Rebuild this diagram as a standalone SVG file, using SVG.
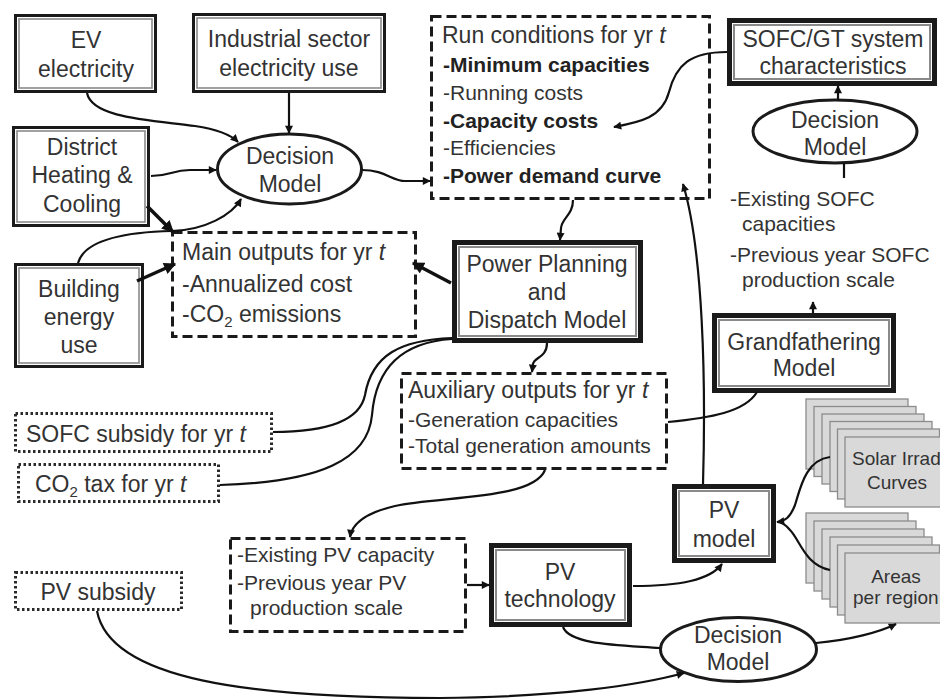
<svg xmlns="http://www.w3.org/2000/svg" width="940" height="700" viewBox="0 0 940 700">
  <defs>
    <marker id="ah" viewBox="0 0 10 10" refX="9" refY="5" markerWidth="9" markerHeight="8" markerUnits="userSpaceOnUse" orient="auto">
      <path d="M0,0 L10,5 L0,10 z" fill="#111"/>
    </marker>
    <marker id="ahb" viewBox="0 0 10 10" refX="9" refY="5" markerWidth="13" markerHeight="12" markerUnits="userSpaceOnUse" orient="auto">
      <path d="M0,0 L10,5 L0,10 z" fill="#111"/>
    </marker>
    <style>
      text { font-family: "Liberation Sans", Arial, sans-serif; fill: #333; }
      .t23 { font-size: 23px; }
      .t21 { font-size: 21px; }
      .t19 { font-size: 19px; }
      .c { text-anchor: middle; }
      .b { font-weight: bold; fill: #222; }
      .ob { fill: #fff; stroke: #1a1a1a; stroke-width: 3; }
      .obm { fill: #fff; stroke: #1a1a1a; stroke-width: 5; }
      .ib { fill: none; stroke: #8a8a8a; stroke-width: 1.6; }
      .ibm { fill: none; stroke: #8a8a8a; stroke-width: 2; }
      .dash { fill: #fff; stroke: #1a1a1a; stroke-width: 3; stroke-dasharray: 10 5; }
      .dot { fill: #fff; stroke: #2a2a2a; stroke-width: 3; stroke-dasharray: 2.5 2.5; }
      .ell { fill: #fff; stroke: #1a1a1a; stroke-width: 3; }
      .card { fill: #d9d9d9; stroke: #8c8c8c; stroke-width: 1.3; }
      .con { fill: none; stroke: #111; stroke-width: 2.2; }
      .thick { fill: none; stroke: #111; stroke-width: 3.5; }
      .arr { marker-end: url(#ah); }
      .arrb { marker-end: url(#ahb); }
      .it { font-style: italic; }
    </style>
  </defs>

  <!-- input boxes -->
  <g id="ev">
    <rect class="ob" x="15.5" y="15.5" width="140" height="76"/>
    <rect class="ib" x="19" y="19" width="133" height="69"/>
    <text class="t23 c" x="86" y="48">EV</text>
    <text class="t23 c" x="86" y="77">electricity</text>
  </g>
  <g id="industrial">
    <rect class="ob" x="193.5" y="14.5" width="191" height="77"/>
    <rect class="ib" x="197" y="18" width="184" height="70"/>
    <text class="t23 c" x="289" y="47">Industrial sector</text>
    <text class="t23 c" x="289" y="76">electricity use</text>
  </g>
  <g id="district">
    <rect class="ob" x="13.5" y="127.5" width="135" height="98"/>
    <rect class="ib" x="17" y="131" width="128" height="91"/>
    <text class="t23 c" x="82" y="155">District</text>
    <text class="t23 c" x="82" y="183">Heating &amp;</text>
    <text class="t23 c" x="82" y="212">Cooling</text>
  </g>
  <g id="building">
    <rect class="ob" x="15.5" y="264.5" width="127" height="102"/>
    <rect class="ib" x="19" y="268" width="120" height="95"/>
    <text class="t23 c" x="79" y="297">Building</text>
    <text class="t23 c" x="79" y="325">energy</text>
    <text class="t23 c" x="79" y="353">use</text>
  </g>

  <!-- decision models -->
  <g id="decision-main">
    <ellipse class="ell" cx="289.5" cy="169" rx="72" ry="35"/>
    <text class="t23 c" x="290" y="164">Decision</text>
    <text class="t23 c" x="290" y="192">Model</text>
  </g>
  <g id="decision-sofc">
    <ellipse class="ell" cx="835" cy="131.5" rx="82" ry="31.5"/>
    <text class="t23 c" x="835" y="128">Decision</text>
    <text class="t23 c" x="835" y="155">Model</text>
  </g>
  <g id="decision-pv">
    <ellipse class="ell" cx="738.5" cy="649.5" rx="78" ry="32"/>
    <text class="t23 c" x="738" y="643">Decision</text>
    <text class="t23 c" x="738" y="670">Model</text>
  </g>

  <!-- run conditions -->
  <g id="run-conditions">
    <rect class="dash" x="431.5" y="16.5" width="278" height="182"/>
    <text class="t23" x="442" y="43">Run conditions for yr <tspan class="it">t</tspan></text>
    <text class="t21 b" x="443" y="72">-Minimum capacities</text>
    <text class="t21" x="443" y="100">-Running costs</text>
    <text class="t21 b" x="443" y="128">-Capacity costs</text>
    <text class="t21" x="443" y="155">-Efficiencies</text>
    <text class="t21 b" x="443" y="183">-Power demand curve</text>
  </g>

  <!-- SOFC/GT -->
  <g id="sofc-gt">
    <rect class="obm" x="729.5" y="20.5" width="205" height="63"/>
    <rect class="ibm" x="734" y="25" width="196" height="54"/>
    <text class="t23 c" x="833" y="47">SOFC/GT system</text>
    <text class="t23 c" x="833" y="74">characteristics</text>
  </g>
  <g id="sofc-inputs">
    <text class="t21" x="730" y="206">-Existing SOFC</text>
    <text class="t21" x="742" y="231">capacities</text>
    <text class="t21" x="730" y="262">-Previous year SOFC</text>
    <text class="t21" x="742" y="287">production scale</text>
  </g>

  <!-- main outputs -->
  <g id="main-outputs">
    <rect class="dash" x="172.5" y="232.5" width="243" height="104"/>
    <text class="t23" x="182" y="260">Main outputs for yr <tspan class="it">t</tspan></text>
    <text class="t23" x="182" y="292">-Annualized cost</text>
    <text class="t23" x="182" y="322">-CO<tspan font-size="15" dy="5">2</tspan><tspan dy="-5"> emissions</tspan></text>
  </g>

  <!-- power planning -->
  <g id="power-planning">
    <rect class="obm" x="454.5" y="242.5" width="186" height="98"/>
    <rect class="ibm" x="459" y="247" width="177" height="89"/>
    <text class="t23 c" x="547" y="272">Power Planning</text>
    <text class="t23 c" x="547" y="300">and</text>
    <text class="t23 c" x="547" y="328">Dispatch Model</text>
  </g>

  <!-- auxiliary outputs -->
  <g id="aux-outputs">
    <rect class="dash" x="401.5" y="373.5" width="265" height="95"/>
    <text class="t23" x="408" y="398">Auxiliary outputs for yr <tspan class="it">t</tspan></text>
    <text class="t21" x="408" y="427">-Generation capacities</text>
    <text class="t21" x="408" y="453">-Total generation amounts</text>
  </g>

  <!-- grandfathering -->
  <g id="grandfathering">
    <rect class="obm" x="714.5" y="315.5" width="179" height="75"/>
    <rect class="ibm" x="719" y="320" width="170" height="66"/>
    <text class="t23 c" x="804" y="350">Grandfathering</text>
    <text class="t23 c" x="804" y="376">Model</text>
  </g>

  <!-- policy inputs -->
  <g id="sofc-subsidy">
    <rect class="dot" x="15.5" y="413.5" width="256" height="38"/>
    <text class="t23" x="26" y="442">SOFC subsidy for yr <tspan class="it">t</tspan></text>
  </g>
  <g id="co2-tax">
    <rect class="dot" x="18.5" y="464.5" width="200" height="37"/>
    <text class="t23" x="35" y="492">CO<tspan font-size="15" dy="5">2</tspan><tspan dy="-5"> tax for yr </tspan><tspan class="it">t</tspan></text>
  </g>
  <g id="pv-subsidy">
    <rect class="dot" x="15.5" y="572.5" width="166" height="37"/>
    <text class="t23 c" x="98" y="600">PV subsidy</text>
  </g>

  <!-- solar irradiance cards -->
  <g id="solar-curves">
    <rect class="card" x="806" y="399" width="102" height="70"/>
    <rect class="card" x="814" y="406.5" width="102" height="70"/>
    <rect class="card" x="822" y="414" width="102" height="70"/>
    <rect class="card" x="830" y="421.5" width="102" height="70"/>
    <rect class="card" x="837.5" y="429" width="102" height="70"/>
    <rect class="card" x="845" y="437" width="102" height="70"/>
    <text class="t19" x="852" y="465">Solar Irrad</text>
    <text class="t19 c" x="897" y="489">Curves</text>
  </g>
  <g id="area-cards">
    <rect class="card" x="806" y="513" width="102" height="70"/>
    <rect class="card" x="814" y="521" width="102" height="70"/>
    <rect class="card" x="822" y="529" width="102" height="70"/>
    <rect class="card" x="830" y="537" width="102" height="70"/>
    <rect class="card" x="837.5" y="545" width="102" height="70"/>
    <rect class="card" x="845" y="553" width="102" height="70"/>
    <text class="t19 c" x="896" y="583">Areas</text>
    <text class="t19" x="853" y="604">per region</text>
  </g>

  <!-- PV chain -->
  <g id="existing-pv">
    <rect class="dash" x="230.5" y="538.5" width="235" height="93"/>
    <text class="t21" x="237" y="562">-Existing PV capacity</text>
    <text class="t21" x="237" y="590">-Previous year PV</text>
    <text class="t21" x="250" y="615">production scale</text>
  </g>
  <g id="pv-technology">
    <rect class="obm" x="491.5" y="545.5" width="138" height="79"/>
    <rect class="ibm" x="496" y="550" width="129" height="70"/>
    <text class="t23 c" x="560" y="580">PV</text>
    <text class="t23 c" x="560" y="607">technology</text>
  </g>
  <g id="pv-model">
    <rect class="obm" x="674.5" y="486.5" width="99" height="74"/>
    <rect class="ibm" x="679" y="491" width="90" height="65"/>
    <text class="t23 c" x="724" y="518">PV</text>
    <text class="t23 c" x="724" y="547">model</text>
  </g>

  <!-- connectors -->
  <g id="connectors">
    <path class="con arr" d="M87,93 C92,118 150,120 195,126 C215,129 230,134 238,142"/>
    <path class="con arr" d="M289,93 L289,133"/>
    <path class="con arr" d="M151,176 C170,176 172,170 190,170 L216,170"/>
    <path class="con arr" d="M78,263 C85,238 130,232 172,231 C205,230 232,215 241,199"/>
    <path class="thick arrb" d="M147,206 L173,232"/>
    <path class="thick arrb" d="M137,281 L175,264"/>
    <path class="thick arrb" d="M451,283 L413,263"/>
    <path class="con arr" d="M362,170 C385,170 392,181 405,181 L430,181"/>
    <path class="con arr" d="M727,52 C690,52 676,65 669,92 C662,118 640,122 614,127"/>
    <path class="con arr" d="M838,100 L838,86"/>
    <path class="con" d="M844,178 L844,163"/>
    <path class="con arr" d="M573,200 C573,215 562,218 561,228 L560,240"/>
    <path class="con arr" d="M547,343 C547,358 534,357 533,364 L532,372"/>
    <path class="con" d="M273,432 C330,432 360,420 365,395 C372,355 400,340 452,338"/>
    <path class="con" d="M220,485 C320,482 368,460 372,415 C376,365 405,342 452,339"/>
    <path class="con" d="M668,422 C710,418 745,412 757,392"/>
    <path class="con arr" d="M813,313 L813,302"/>
    <path class="con arr" d="M703,484 C706,380 703,250 683,184"/>
    <path class="con arr" d="M545,470 C533,500 440,496 395,506 C365,513 352,524 350,537"/>
    <path class="con arr" d="M467,585 L489,585"/>
    <path class="con arr" d="M633,586 C680,586 710,580 722,564"/>
    <path class="con arr" d="M830,457 C805,460 800,490 795,505 C790,518 785,521 777,522"/>
    <path class="con" d="M830,570 C805,565 800,540 790,530 C786,525 782,522 777,522"/>
    <path class="con" d="M563,627 C570,645 620,645 660,648"/>
    <path class="con arr" d="M816,643 C850,640 880,632 896,624"/>
    <path class="con arr" d="M97,611 C110,680 250,698 440,698 C560,697 640,685 684,673"/>
  </g>
</svg>
